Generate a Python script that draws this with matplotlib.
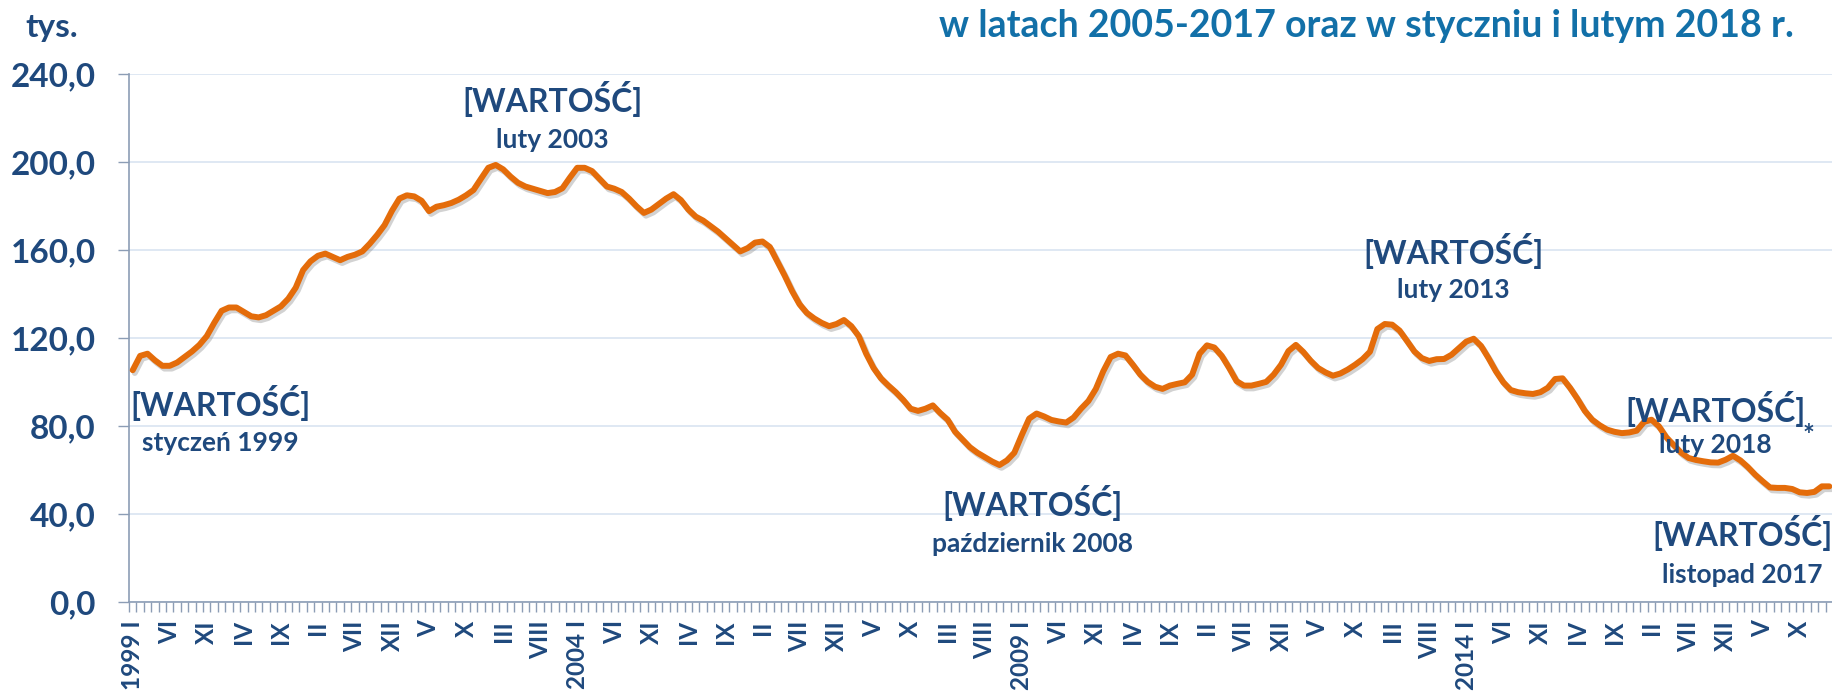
import matplotlib
matplotlib.use("Agg")
import matplotlib.pyplot as plt
import matplotlib.patheffects as pe
import numpy as np

plt.rcParams['font.family'] = ['Lato', 'DejaVu Sans']

# liczba bezrobotnych (tys.), miesięcznie: styczeń 1999 - luty 2018
values = [
    105.5, 112.0, 113.0, 110.0, 107.5, 107.5, 109.0, 111.5, 114.0, 117.0, 121.0, 127.0,   # 1999
    132.5, 134.0, 134.0, 132.0, 130.0, 129.5, 130.5, 132.5, 134.5, 138.0, 143.0, 151.0,   # 2000
    155.0, 157.5, 158.5, 157.0, 155.5, 157.0, 158.0, 159.5, 163.0, 167.0, 171.5, 178.0,   # 2001
    183.5, 185.0, 184.5, 182.5, 177.8, 179.8, 180.5, 181.5, 183.0, 185.0, 187.4, 192.5,   # 2002
    197.5, 198.8, 196.8, 193.5, 190.7, 189.0, 188.0, 187.0, 186.0, 186.5, 188.2, 193.0,   # 2003
    197.5, 197.5, 196.0, 192.5, 189.0, 188.0, 186.5, 183.5, 180.0, 177.0, 178.5, 181.0,   # 2004
    183.5, 185.5, 182.8, 178.5, 175.3, 173.5, 171.0, 168.5, 165.5, 162.5, 159.5, 161.0,   # 2005
    163.5, 164.0, 161.5, 155.0, 148.5, 141.5, 135.5, 131.5, 129.0, 127.0, 125.5, 126.5,   # 2006
    128.3, 125.5, 121.0, 113.0, 106.5, 101.8, 98.5, 95.5, 92.0, 88.0, 87.0, 88.0,         # 2007
    89.5, 86.0, 83.0, 77.5, 74.0, 70.5, 68.0, 66.0, 64.0, 62.4, 64.5, 68.0,               # 2008
    76.0, 83.5, 85.8, 84.5, 82.9, 82.2, 81.7, 84.0, 88.0, 91.5, 97.0, 105.0,              # 2009
    111.5, 113.0, 112.2, 108.0, 103.5, 100.2, 98.0, 97.0, 98.5, 99.3, 100.0, 103.5,       # 2010
    113.0, 116.8, 115.8, 112.0, 106.5, 100.5, 98.5, 98.5, 99.3, 100.2, 103.5, 108.0,      # 2011
    114.2, 117.0, 113.8, 109.8, 106.5, 104.5, 103.0, 104.0, 105.8, 108.0, 110.5, 113.9,   # 2012
    124.2, 126.5, 126.2, 123.5, 118.8, 114.0, 111.0, 109.7, 110.5, 110.6, 112.5, 115.5,   # 2013
    118.5, 119.8, 116.5, 111.0, 105.0, 100.0, 96.5, 95.5, 95.0, 94.7, 95.5, 97.5,         # 2014
    101.5, 101.8, 97.5, 92.5, 87.0, 83.0, 80.5, 78.5, 77.5, 76.9, 77.2, 78.0,             # 2015
    82.0, 83.0, 80.0, 75.0, 71.5, 68.0, 65.6, 64.7, 64.1, 63.6, 63.5, 64.8,               # 2016
    66.6, 64.5, 61.5, 58.0, 55.0, 52.2, 52.0, 52.0, 51.5, 50.0, 49.7, 50.2,               # 2017
    52.7, 52.7,                                                                           # 2018
]

# podpisy osi X co 5 miesięcy
tick_labels = [
    "1999 I", "VI", "XI", "IV", "IX", "II", "VII", "XII", "V", "X", "III", "VIII",
    "2004 I", "VI", "XI", "IV", "IX", "II", "VII", "XII", "V", "X", "III", "VIII",
    "2009 I", "VI", "XI", "IV", "IX", "II", "VII", "XII", "V", "X", "III", "VIII",
    "2014 I", "VI", "XI", "IV", "IX", "II", "VII", "XII", "V", "X",
]
y_ticks = [0, 40, 80, 120, 160, 200, 240]

# opisy punktów: (indeks miesiąca, y etykiety, y opisu, opis)
annotations = [
    (11.8, 90.6, 72.6, "styczeń 1999"),
    (56.7, 228.8, 210.0, "luty 2003"),
    (121.5, 45.0, 26.5, "październik 2008"),
    (178.3, 159.7, 142.0, "luty 2013"),
    (213.6, 88.0, 71.5, "luty 2018"),
    (217.3, 31.5, 12.4, "listopad 2017"),
]

navy = '#1F497D'
orange = '#E46C0A'
axis_col = '#8C9DB5'
grid_col = '#DCE6F2'

fig = plt.figure(figsize=(18.33, 6.94), dpi=100)
ax = fig.add_axes([129 / 1833, 91.7 / 694, 1 - 129 / 1833, 528 / 694])

x = np.arange(len(values))
ax.plot(x, values, color=orange, linewidth=4.3, solid_capstyle='round', solid_joinstyle='round',
        path_effects=[pe.SimpleLineShadow(offset=(1.5, -2), shadow_color='#808080', alpha=0.35),
                      pe.Normal()], zorder=5)

ax.set_xlim(-0.5, len(values) - 0.5)
ax.set_ylim(0, 240)

ax.set_yticks(y_ticks)
ax.set_yticklabels([f"{v:.1f}".replace('.', ',') for v in y_ticks])
ax.grid(axis='y', color=grid_col, linewidth=1.3)
ax.set_axisbelow(True)

ax.set_xticks(np.arange(0, len(tick_labels) * 5, 5))
ax.set_xticklabels(tick_labels, rotation=90, va='top', ha='center')
ax.set_xticks(np.arange(-0.5, len(values), 1), minor=True)
ax.tick_params(axis='x', which='major', length=0, pad=13, labelsize=17.5, labelcolor=navy)
ax.tick_params(axis='x', which='minor', length=7, width=1, color=axis_col, direction='out')
ax.tick_params(axis='y', length=8, width=1, color=axis_col, pad=16, labelsize=24, labelcolor=navy)
for lab in ax.get_xticklabels() + ax.get_yticklabels():
    lab.set_fontweight('bold')

for side in ['top', 'right']:
    ax.spines[side].set_visible(False)
for side in ['left', 'bottom']:
    ax.spines[side].set_color(axis_col)
    ax.spines[side].set_linewidth(1.2)

for xi, y1, y2, desc in annotations:
    ax.text(xi, y1, "[WARTOŚĆ]", ha='center', va='center', fontsize=23,
            fontweight='bold', color=navy, zorder=6)
    ax.text(xi, y2, desc, ha='center', va='center', fontsize=19,
            fontweight='bold', color=navy, zorder=6)
ax.text(226.2, 75.5, "*", ha='center', va='center', fontsize=20, fontweight='bold', color=navy, zorder=6)

fig.text(52 / 1833, 1 - 27 / 694, "tys.", ha='center', va='center', fontsize=24,
         fontweight='bold', color=navy)
fig.text(1794 / 1833, 1 - 26 / 694, "w latach 2005-2017 oraz w styczniu i lutym 2018 r.",
         ha='right', va='center', fontsize=27, fontweight='bold', color='#1270A8')

fig.savefig("out.png", dpi=100)
